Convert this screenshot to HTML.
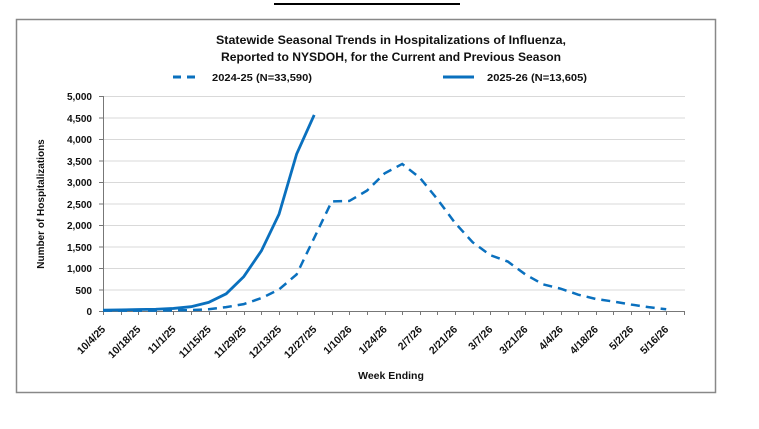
<!DOCTYPE html>
<html><head><meta charset="utf-8"><style>
html,body{margin:0;padding:0;background:#fff;width:759px;height:429px;overflow:hidden}
svg{display:block;font-family:"Liberation Sans",sans-serif;font-weight:bold}
</style></head><body>
<svg width="759" height="429" viewBox="0 0 759 429">
<rect width="759" height="429" fill="#fff"/>
<line x1="274" y1="4" x2="460" y2="4" stroke="#000" stroke-width="2"/>
<rect x="16.5" y="19.5" width="699" height="373" fill="#fff" stroke="#888" stroke-width="1.5"/>
<text x="391" y="44" text-anchor="middle" font-size="12" fill="#111" textLength="350" lengthAdjust="spacingAndGlyphs">Statewide Seasonal Trends in Hospitalizations of Influenza,</text>
<text x="391" y="61" text-anchor="middle" font-size="12" fill="#111" textLength="340" lengthAdjust="spacingAndGlyphs">Reported to NYSDOH, for the Current and Previous Season</text>
<line x1="173" y1="77" x2="201" y2="77" stroke="#0a70be" stroke-width="3" stroke-dasharray="8,6"/>
<text x="212" y="81" font-size="10.5" fill="#111" textLength="100" lengthAdjust="spacingAndGlyphs">2024-25 (N=33,590)</text>
<line x1="443" y1="77" x2="474" y2="77" stroke="#0a70be" stroke-width="3"/>
<text x="487" y="81" font-size="10.5" fill="#111" textLength="100" lengthAdjust="spacingAndGlyphs">2025-26 (N=13,605)</text>
<g stroke="#d9d9d9" stroke-width="1">
<line x1="103" y1="96.5" x2="685" y2="96.5"/><line x1="103" y1="118" x2="685" y2="118"/><line x1="103" y1="139.5" x2="685" y2="139.5"/><line x1="103" y1="161" x2="685" y2="161"/><line x1="103" y1="182.5" x2="685" y2="182.5"/><line x1="103" y1="204" x2="685" y2="204"/><line x1="103" y1="225.5" x2="685" y2="225.5"/><line x1="103" y1="247" x2="685" y2="247"/><line x1="103" y1="268.5" x2="685" y2="268.5"/><line x1="103" y1="290" x2="685" y2="290"/>
</g>
<g stroke="#777" stroke-width="1">
<line x1="103.5" y1="96" x2="103.5" y2="311"/>
<line x1="103" y1="311.5" x2="685" y2="311.5"/>
<line x1="99" y1="96.5" x2="103" y2="96.5"/><line x1="99" y1="118" x2="103" y2="118"/><line x1="99" y1="139.5" x2="103" y2="139.5"/><line x1="99" y1="161" x2="103" y2="161"/><line x1="99" y1="182.5" x2="103" y2="182.5"/><line x1="99" y1="204" x2="103" y2="204"/><line x1="99" y1="225.5" x2="103" y2="225.5"/><line x1="99" y1="247" x2="103" y2="247"/><line x1="99" y1="268.5" x2="103" y2="268.5"/><line x1="99" y1="290" x2="103" y2="290"/><line x1="99" y1="311.5" x2="103" y2="311.5"/>
</g>
<g id="xt" stroke="#777" stroke-width="1"></g>
<g font-size="10" fill="#111" text-anchor="end">
<text x="92" y="100">5,000</text><text x="92" y="122">4,500</text><text x="92" y="143">4,000</text><text x="92" y="165">3,500</text><text x="92" y="186">3,000</text><text x="92" y="208">2,500</text><text x="92" y="229">2,000</text><text x="92" y="251">1,500</text><text x="92" y="272">1,000</text><text x="92" y="294">500</text><text x="92" y="315">0</text>
</g>
<text transform="translate(44,204) rotate(-90)" text-anchor="middle" font-size="10" fill="#111">Number of Hospitalizations</text>
<g id="xl" font-size="10.5" fill="#111" text-anchor="end"></g>
<text x="391" y="379" text-anchor="middle" font-size="10.5" fill="#111">Week Ending</text>
<polyline id="d" fill="none" stroke="#0a70be" stroke-width="2.5" stroke-dasharray="9,6"/>
<polyline id="s" fill="none" stroke="#0a70be" stroke-width="2.8"/>
</svg>
<script>
var x0=103,dx=17.6,y0=311,k=0.043,ns="http://www.w3.org/2000/svg";
function X(i){return x0+i*dx}function Y(v){return y0-v*k}
var s=[20,25,35,40,60,100,200,400,800,1400,2250,3650,4560];
var d=[10,10,10,10,15,20,40,90,160,300,500,850,1700,2550,2560,2800,3200,3420,3100,2600,2050,1600,1300,1150,850,620,520,380,280,220,150,90,40];
document.getElementById('s').setAttribute('points',s.map(function(v,i){return X(i)+','+Y(v)}).join(' '));
document.getElementById('d').setAttribute('points',d.map(function(v,i){return X(i)+','+Y(v)}).join(' '));
var xt=document.getElementById('xt');
for(var i=0;i<=33;i++){var l=document.createElementNS(ns,'line');var x=Math.round(X(i))+.5;l.setAttribute('x1',x);l.setAttribute('x2',x);l.setAttribute('y1',311);l.setAttribute('y2',315);xt.appendChild(l);}
var labs=['10/4/25','10/18/25','11/1/25','11/15/25','11/29/25','12/13/25','12/27/25','1/10/26','1/24/26','2/7/26','2/21/26','3/7/26','3/21/26','4/4/26','4/18/26','5/2/26','5/16/26'];
var xl=document.getElementById('xl');
labs.forEach(function(t,j){var e=document.createElementNS(ns,'text');var x=X(2*j)+3,y=330;e.setAttribute('transform','translate('+x+','+y+') rotate(-45)');e.textContent=t;xl.appendChild(e);});
</script>
</body></html>
